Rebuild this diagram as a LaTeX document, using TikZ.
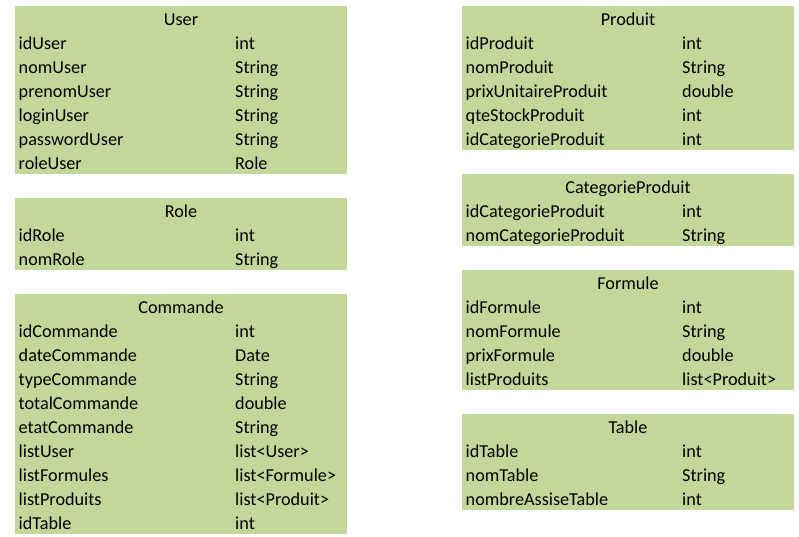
\documentclass[tikz,border=0pt]{standalone}
\usepackage{fontspec}
\setmainfont{Carlito}
\definecolor{tabgreen}{HTML}{C4D79B}
\tikzset{
  tabfill/.style={fill=tabgreen},
  fieldtext/.style={anchor=base west, inner sep=0pt, font=\fontsize{18.2}{20}\selectfont},
  titletext/.style={anchor=base, inner sep=0pt, font=\fontsize{18.2}{20}\selectfont}
}
% #1 name, #2 x0, #3 x1, #4 ytop, #5 type x, #6 title, #7 fields, #8 number of fields
\newcommand\umltab[8]{%
  \fill[tabfill] (#2,#4) rectangle (#3,{#4+24*(#8+1)});
  \node[titletext] (#1-title) at ({(#2+#3)/2},{#4+19.5}) {#6};
  \foreach \f/\t [count=\i] in {#7} {
    \node[fieldtext] (#1-f\i) at ({#2+3.5},{#4+24*\i+19.5}) {\f};
    \node[fieldtext] (#1-t\i) at (#5,{#4+24*\i+19.5}) {\t};
  }
}
\begin{document}
\begin{tikzpicture}[x=1pt,y=-1pt]
\useasboundingbox[fill=white] (0,0) rectangle (799,537);
\umltab{user}{15}{347}{6}{235}{User}{idUser/int,nomUser/String,prenomUser/String,loginUser/String,passwordUser/String,roleUser/Role}{6}
\umltab{role}{15}{347}{198}{235}{Role}{idRole/int,nomRole/String}{2}
\umltab{commande}{15}{347}{294}{235}{Commande}{idCommande/int,dateCommande/Date,typeCommande/String,totalCommande/double,etatCommande/String,listUser/list<User>,listFormules/list<Formule>,listProduits/list<Produit>,idTable/int}{9}
\umltab{produit}{462}{794}{6}{682}{Produit}{idProduit/int,nomProduit/String,prixUnitaireProduit/double,qteStockProduit/int,idCategorieProduit/int}{5}
\umltab{categorie}{462}{794}{174}{682}{CategorieProduit}{idCategorieProduit/int,nomCategorieProduit/String}{2}
\umltab{formule}{462}{794}{270}{682}{Formule}{idFormule/int,nomFormule/String,prixFormule/double,listProduits/list<Produit>}{4}
\umltab{table}{462}{794}{414}{682}{Table}{idTable/int,nomTable/String,nombreAssiseTable/int}{3}
\end{tikzpicture}
\end{document}
